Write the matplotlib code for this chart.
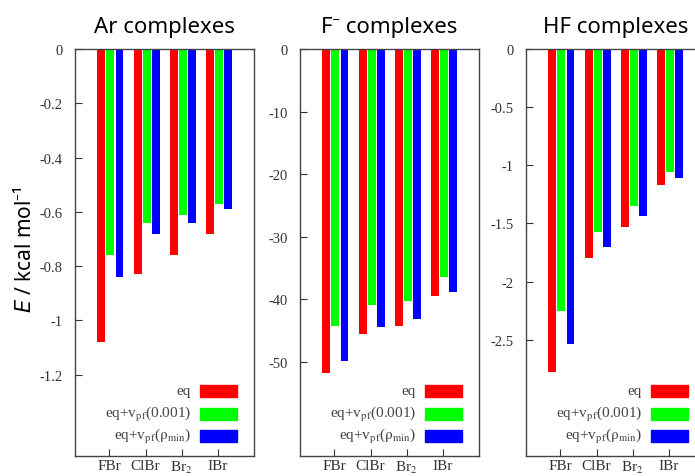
import numpy as np
import matplotlib
matplotlib.use("Agg")
import matplotlib.pyplot as plt
from matplotlib.patches import Rectangle

plt.rcParams['font.family'] = ['Liberation Serif', 'DejaVu Serif']
plt.rcParams['mathtext.fontset'] = 'stix'

# data
molecules = ['FBr', 'ClBr', r'Br$_2$', 'IBr']
series = ['eq', r'eq+v$_{\rm pf}$(0.001)', r'eq+v$_{\rm pf}$($\mathrm{ρ}_{\rm min}$)']
colors = ['#ff0000', '#00ff00', '#0000ff']

ar_eq = [-1.08, -0.83, -0.76, -0.68]
ar_pf001 = [-0.76, -0.64, -0.61, -0.57]
ar_pfmin = [-0.84, -0.68, -0.64, -0.59]

f_eq = [-51.7, -45.5, -44.2, -39.4]
f_pf001 = [-44.3, -40.9, -40.2, -36.4]
f_pfmin = [-49.9, -44.4, -43.2, -38.8]

hf_eq = [-2.78, -1.80, -1.53, -1.17]
hf_pf001 = [-2.25, -1.57, -1.35, -1.06]
hf_pfmin = [-2.54, -1.70, -1.44, -1.11]

panels = [
    ('Ar complexes', [ar_eq, ar_pf001, ar_pfmin], -1.5, np.arange(0, -1.3, -0.2), ['0', '-0.2', '-0.4', '-0.6', '-0.8', '-1', '-1.2']),
    ('F\u207b complexes', [f_eq, f_pf001, f_pfmin], -65, np.arange(0, -51, -10), ['0', '-10', '-20', '-30', '-40', '-50']),
    ('HF complexes', [hf_eq, hf_pf001, hf_pfmin], -3.5, np.arange(0, -2.6, -0.5), ['0', '-0.5', '-1', '-1.5', '-2', '-2.5']),
]

fig = plt.figure(figsize=(6.95, 4.77), dpi=100)
lefts = [75, 300, 526]
W, H = 695, 477
AW, AH = 179, 407
x = np.arange(4)
offsets = [-0.22, 0.03, 0.28]

for (title, vals, ymin, yt, ytl), left in zip(panels, lefts):
    ax = fig.add_axes([left / W, 1 - 457 / H, AW / W, AH / H])
    for v, off, c in zip(vals, offsets, colors):
        ax.bar(x + off, v, width=0.22, color=c, align='center', linewidth=0)
    ax.set_xlim(-0.95, 4.0)
    ax.set_ylim(ymin, 0)
    ax.set_yticks(yt)
    ax.set_yticklabels(ytl)
    ax.set_xticks(x)
    ax.set_xticklabels(molecules)
    ax.tick_params(direction='in', length=5, width=0.8, labelsize=11,
                   colors='#333333', labelcolor='#333333', pad=2)
    ax.tick_params(axis='y', labelsize=10.5, pad=9)
    for s in ax.spines.values():
        s.set_color('#444444')
        s.set_linewidth(1.0)
    ax.set_title(title, family=['Noto Sans', 'DejaVu Sans'], fontsize=16, pad=12)

    # key, gnuplot style: text right-aligned left of the colour box
    for i, (lab, c) in enumerate(zip(series, colors)):
        yc = 1 - (392 + 22.5 * i - 50) / AH
        ax.add_patch(Rectangle((125 / AW, yc - 6 / AH), 37 / AW, 12 / AH, color=c,
                               transform=ax.transAxes, clip_on=False))
        ax.text(116 / AW, yc, lab, transform=ax.transAxes, ha='right', va='center',
                fontsize=11, color='#444444')

fig.text(25 / W, 1 - 250 / H, r'$\it{E}$ / kcal mol⁻¹', rotation=90, ha='center', va='center',
         family=['Noto Sans', 'DejaVu Sans'], fontsize=15, math_fontfamily='dejavusans')

fig.savefig('out.png', dpi=100)
